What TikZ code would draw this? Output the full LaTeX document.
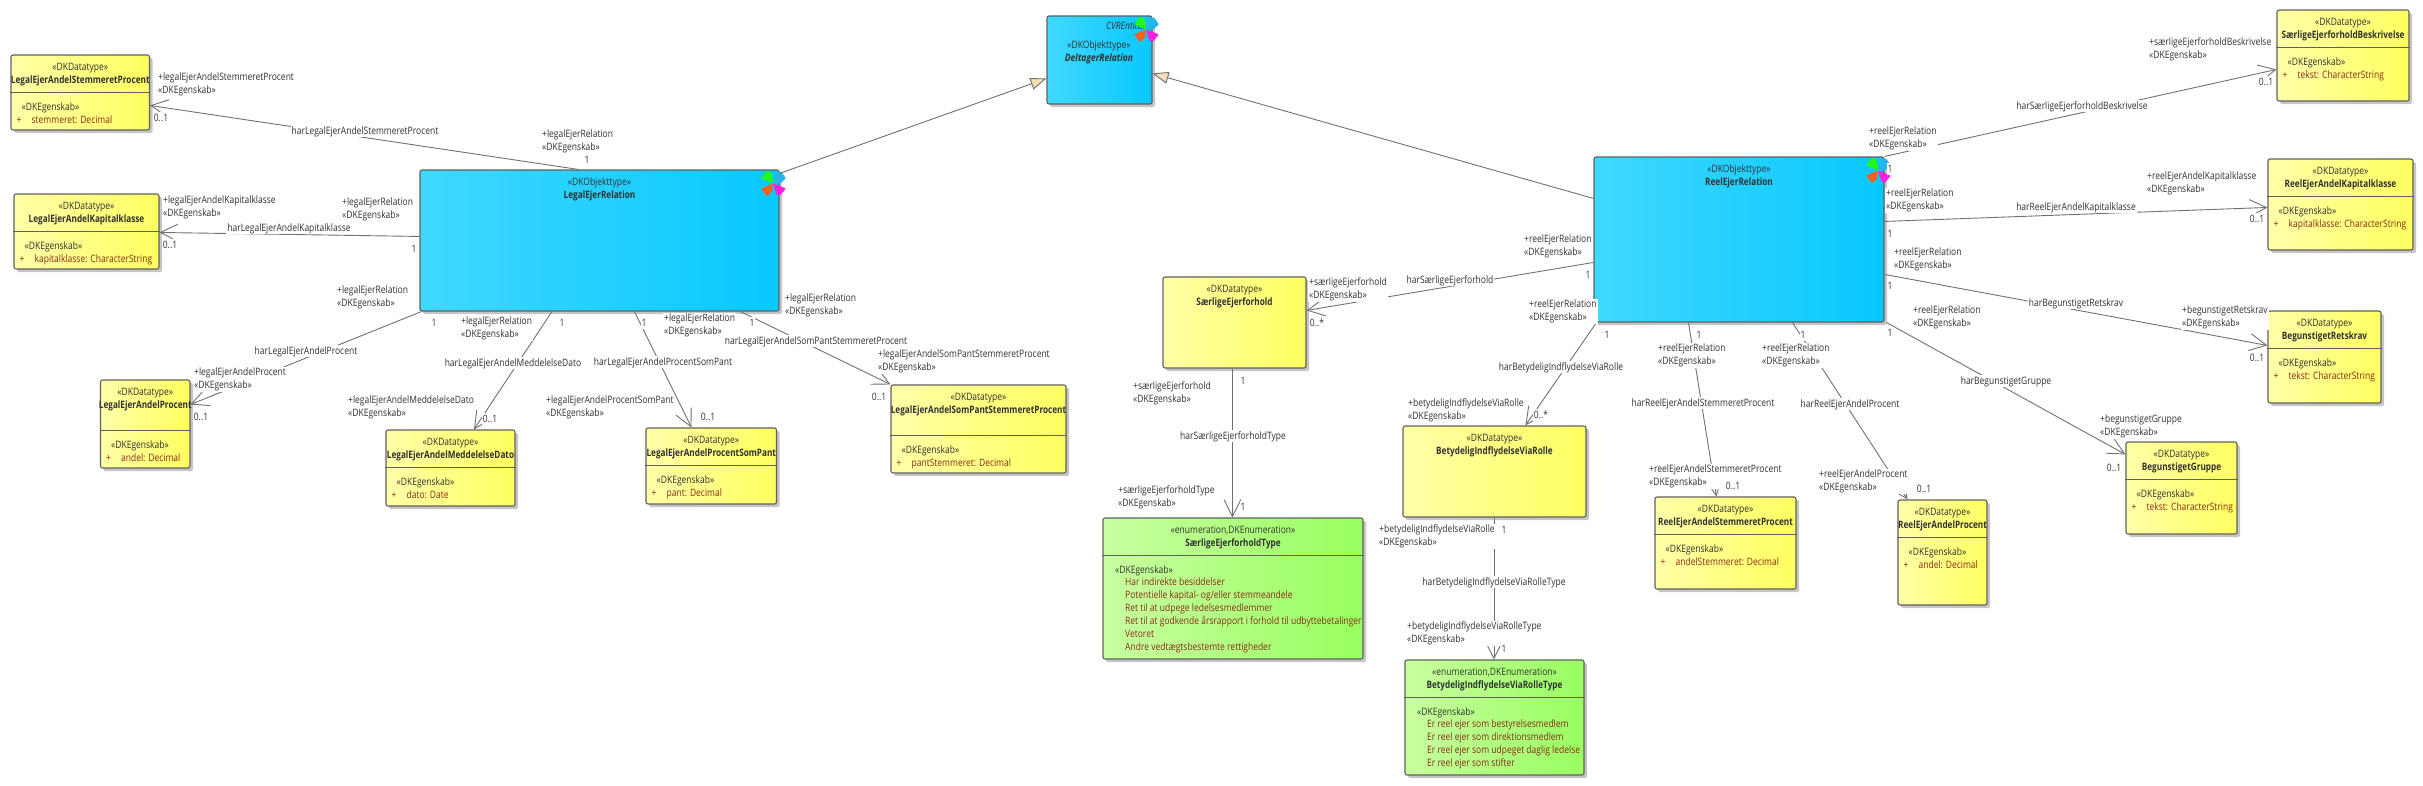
\documentclass[tikz,border=0pt]{standalone}
\usepackage{fontspec}
\setmainfont{Open Sans}[FakeStretch=0.833,BoldFeatures={FakeStretch=0.805}]
\usetikzlibrary{arrows.meta,shadows}
\definecolor{boxline}{HTML}{606060}
\definecolor{linegray}{HTML}{707070}
\definecolor{textdark}{HTML}{303030}
\definecolor{attrred}{HTML}{8A2A1A}
\definecolor{yellowleft}{HTML}{FFFFA8}
\definecolor{yellowright}{HTML}{FFFF60}
\definecolor{blueleft}{HTML}{40D8FF}
\definecolor{blueright}{HTML}{08C8FF}
\definecolor{greenleft}{HTML}{C8FFA0}
\definecolor{greenright}{HTML}{98FF60}
\definecolor{tipfill}{HTML}{F5DDB5}
\definecolor{petalgreen}{HTML}{22F51A}
\definecolor{petalblue}{HTML}{27B4EB}
\definecolor{petalorange}{HTML}{F7631F}
\definecolor{petalmagenta}{HTML}{FF1FE0}
\tikzstyle{classbox} = [rectangle,
                    rounded corners=2pt,
                    draw=boxline,
                    line width=1.1pt,
                    inner sep=0pt,
                    drop shadow={shadow xshift=3pt,shadow yshift=-3pt,fill=black!45,opacity=.5}]
\tikzstyle{datatype} = [classbox, left color=yellowleft, right color=yellowright]
\tikzstyle{objecttype} = [classbox, left color=blueleft, right color=blueright]
\tikzstyle{enumtype} = [classbox, left color=greenleft, right color=greenright]
\tikzstyle{basetext} = [font=\fontsize{10.2}{13}\selectfont, inner sep=0pt, text=textdark,
                    text height=9pt, text depth=2.5pt]
\tikzstyle{boldtext} = [basetext, font=\fontsize{10.2}{13}\selectfont\bfseries]
\tikzstyle{attrtext} = [basetext, text=attrred, anchor=west]
\tikzstyle{link} = [basetext, fill=white, inner xsep=1pt]
\tikzstyle{mult} = [basetext, fill=white, inner xsep=1pt]
\tikzstyle{role} = [font=\fontsize{10.2}{13}\selectfont, text=textdark, fill=white, inner sep=1pt,
                    align=left, anchor=west]
\tikzstyle{assoc} = [color=linegray, line width=.9pt,
                    -{Straight Barb[length=17pt,width=17pt,line width=.9pt]}]
\tikzstyle{general} = [color=linegray, line width=.9pt,
                    -{Triangle[length=16pt,width=12pt,fill=tipfill,line width=.9pt]}]
% box with the two head lines
\newcommand{\umlbox}[8]{
  \node (#1) [#2, minimum width={(#5-#3)*1pt}, minimum height={(#6-#4)*1pt}] at ({(#3+#5)/2},{(#4+#6)/2}) {};
  \node (#1s) [basetext] at ([yshift=-13pt]#1.north) {«#7»};
  \node (#1n) [boldtext] at ([yshift=-26pt]#1.north) {#8};
}
% divider and one attribute
\newcommand{\umlattr}[3]{
  \draw [boxline, line width=.9pt] (#1.west |- 0,#2) -- (#1.east |- 0,#2);
  \node (#1d) [basetext, anchor=west, xshift=11pt] at (#1.west |- 0,#2+15) {«DKEgenskab»};
  \node (#1p) [attrtext, xshift=6pt] at (#1.west |- 0,#2+28) {+};
  \node (#1a) [attrtext, xshift=21pt] at (#1.west |- 0,#2+28) {#3};
}
\newcommand{\petals}[1]{
  \begin{scope}[shift={([xshift=-6.5pt,yshift=-14pt]#1.north east)}, rounded corners=1pt]
    \fill [petalgreen] (0,0) -- (-12,-5) -- (-6,-13) -- (-1,-10) -- cycle;
    \fill [petalblue] (0,0) -- (3,-11) -- (8,-12) -- (13,-5) -- (7,0) -- cycle;
    \fill [petalorange] (0,0) -- (-12,5) -- (-6,13) -- (-1,8) -- cycle;
    \fill [petalmagenta] (0,0) -- (13,5) -- (6,13) -- (3,10) -- cycle;
  \end{scope}
}
\begin{document}
\begin{tikzpicture}[x=1pt,y=-1pt]
  \useasboundingbox (0,0) rectangle (2423,785);
  \node (del) [objecttype, minimum width=105pt, minimum height=88pt] at (1099.5,60) {};
  \node (dels) [basetext] at (1099,45) {«DKObjekttype»};
  \node (deln) [basetext, font=\fontsize{10.2}{13}\selectfont\itshape\bfseries] at (1099,58) {DeltagerRelation};
  \node (delc) [basetext, anchor=west, font=\fontsize{10.2}{13}\selectfont\itshape] at (1106,26) {CVREntitet};
  \umlbox{ler}{objecttype}{420}{170}{779}{311}{DKObjekttype}{LegalEjerRelation}
  \umlbox{rer}{objecttype}{1594}{157}{1884}{322}{DKObjekttype}{ReelEjerRelation}
  \umlbox{lst}{datatype}{11}{55}{149.5}{130}{DKDatatype}{LegalEjerAndelStemmeretProcent}
  \umlattr{lst}{92}{stemmeret: Decimal}
  \umlbox{lka}{datatype}{14}{194}{159}{269}{DKDatatype}{LegalEjerAndelKapitalklasse}
  \umlattr{lka}{231}{kapitalklasse: CharacterString}
  \umlbox{lpr}{datatype}{100.5}{380}{190}{468}{DKDatatype}{LegalEjerAndelProcent}
  \umlattr{lpr}{430}{andel: Decimal}
  \umlbox{lme}{datatype}{386}{430}{515}{506}{DKDatatype}{LegalEjerAndelMeddelelseDato}
  \umlattr{lme}{467}{dato: Date}
  \umlbox{lpa}{datatype}{646}{428}{776.5}{504}{DKDatatype}{LegalEjerAndelProcentSomPant}
  \umlattr{lpa}{465}{pant: Decimal}
  \umlbox{lsp}{datatype}{891}{385}{1066}{473}{DKDatatype}{LegalEjerAndelSomPantStemmeretProcent}
  \umlattr{lsp}{435}{pantStemmeret: Decimal}
  \umlbox{sef}{datatype}{1163}{277}{1306}{368}{DKDatatype}{SærligeEjerforhold}
  \umlbox{bir}{datatype}{1403}{426}{1586}{517}{DKDatatype}{BetydeligIndflydelseViaRolle}
  \umlbox{rst}{datatype}{1655}{497}{1796}{589}{DKDatatype}{ReelEjerAndelStemmeretProcent}
  \umlattr{rst}{534}{andelStemmeret: Decimal}
  \umlbox{rpr}{datatype}{1898}{500}{1987}{605}{DKDatatype}{ReelEjerAndelProcent}
  \umlattr{rpr}{537}{andel: Decimal}
  \umlbox{sbe}{datatype}{2277}{10}{2409}{101}{DKDatatype}{SærligeEjerforholdBeskrivelse}
  \umlattr{sbe}{47}{tekst: CharacterString}
  \umlbox{rka}{datatype}{2268}{159}{2413}{250}{DKDatatype}{ReelEjerAndelKapitalklasse}
  \umlattr{rka}{196}{kapitalklasse: CharacterString}
  \umlbox{brk}{datatype}{2268}{311}{2381}{403}{DKDatatype}{BegunstigetRetskrav}
  \umlattr{brk}{348}{tekst: CharacterString}
  \umlbox{bgr}{datatype}{2126}{442}{2237}{534}{DKDatatype}{BegunstigetGruppe}
  \umlattr{bgr}{479}{tekst: CharacterString}
  \umlbox{sty}{enumtype}{1103}{518}{1363}{659}{enumeration,DKEnumeration}{SærligeEjerforholdType}
  \draw [boxline, line width=.9pt] (sty.west |- 0,555) -- (sty.east |- 0,555);
  \node (styd) [basetext, anchor=west] at (1115,570) {«DKEgenskab»};
  \node (styv) [basetext, text=attrred, anchor=west, align=left, text height=, text depth=] at (1125,615.5) {Har indirekte besiddelser\\Potentielle kapital- og/eller stemmeandele\\Ret til at udpege ledelsesmedlemmer\\Ret til at godkende årsrapport i forhold til udbyttebetalinger\\Vetoret\\Andre vedtægtsbestemte rettigheder};
  \umlbox{bty}{enumtype}{1405}{660}{1584}{775}{enumeration,DKEnumeration}{BetydeligIndflydelseViaRolleType}
  \draw [boxline, line width=.9pt] (bty.west |- 0,697) -- (bty.east |- 0,697);
  \node (btyd) [basetext, anchor=west] at (1417,712) {«DKEgenskab»};
  \node (btyv) [basetext, text=attrred, anchor=west, align=left, text height=, text depth=] at (1427,744.5) {Er reel ejer som bestyrelsesmedlem\\Er reel ejer som direktionsmedlem\\Er reel ejer som udpeget daglig ledelse\\Er reel ejer som stifter};
  \petals{del}
  \petals{ler}
  \petals{rer}
  \path[general]
    ([yshift=-4pt]ler.north east) edge ([yshift=-63pt]del.north west)
    ([yshift=-42pt]rer.north west) edge ([yshift=-58pt]del.north east);
  \path[assoc]
    ([xshift=159pt]ler.north west) edge ([yshift=-51pt]lst.north east)
    ([yshift=-67pt]ler.north west) edge ([yshift=-39pt]lka.north east)
    ([xshift=2pt]ler.south west) edge ([yshift=-25pt]lpr.north east)
    ([xshift=132.5pt]ler.south west) edge ([xshift=88.5pt]lme.north west)
    ([xshift=215pt]ler.south west) edge ([xshift=46pt]lpa.north west)
    ([xshift=321pt]ler.south west) edge (lsp.north west)
    ([yshift=-106pt]rer.north west) edge ([yshift=-34pt]sef.north east)
    ([xshift=3pt]rer.south west) edge ([xshift=123pt]bir.north west)
    ([xshift=95pt]rer.south west) edge ([xshift=62pt]rst.north west)
    ([xshift=199pt]rer.south west) edge ([xshift=10pt]rpr.north west)
    ([xshift=2pt]rer.south east) edge ([yshift=-13pt]bgr.north west)
    ([yshift=-118pt]rer.north east) edge ([yshift=-35pt]brk.north west)
    ([yshift=-65pt]rer.north east) edge ([yshift=-49pt]rka.north west)
    (rer.north east) edge ([yshift=-60pt]sbe.north west)
    ([xshift=70pt]sef.south west) edge ([xshift=130pt]sty.north west)
    ([xshift=91.5pt]bir.south west) edge ([xshift=89.5pt]bty.north west);
  \node (l1) [link] at (365,131) {harLegalEjerAndelStemmeretProcent};
  \node (l2) [link] at (289,228) {harLegalEjerAndelKapitalklasse};
  \node (l3) [link] at (306,351) {harLegalEjerAndelProcent};
  \node (l4) [link] at (513,363) {harLegalEjerAndelMeddelelseDato};
  \node (l5) [link] at (663,362) {harLegalEjerAndelProcentSomPant};
  \node (l6) [link] at (816,341) {harLegalEjerAndelSomPantStemmeretProcent};
  \node (l7) [link] at (1450,280) {harSærligeEjerforhold};
  \node (l8) [link] at (1561,367) {harBetydeligIndflydelseViaRolle};
  \node (l9) [link] at (1703,403) {harReelEjerAndelStemmeretProcent};
  \node (l10) [link] at (1850,404) {harReelEjerAndelProcent};
  \node (l11) [link] at (2006,381) {harBegunstigetGruppe};
  \node (l12) [link] at (2076,303) {harBegunstigetRetskrav};
  \node (l13) [link] at (2076,207) {harReelEjerAndelKapitalklasse};
  \node (l14) [link] at (2082,106) {harSærligeEjerforholdBeskrivelse};
  \node (l15) [link] at (1233,436) {harSærligeEjerforholdType};
  \node (l16) [link] at (1494,582) {harBetydeligIndflydelseViaRolleType};
  \node (r1) [role] at (157,84.5) {+legalEjerAndelStemmeretProcent\\«DKEgenskab»};
  \node (r2) [role] at (541,141.5) {+legalEjerRelation\\«DKEgenskab»};
  \node (r3) [role] at (162,207.5) {+legalEjerAndelKapitalklasse\\«DKEgenskab»};
  \node (r4) [role] at (341,209.5) {+legalEjerRelation\\«DKEgenskab»};
  \node (r5) [role] at (336,297.5) {+legalEjerRelation\\«DKEgenskab»};
  \node (r6) [role] at (460,328.5) {+legalEjerRelation\\«DKEgenskab»};
  \node (r7) [role] at (663,325.5) {+legalEjerRelation\\«DKEgenskab»};
  \node (r8) [role] at (784,305.5) {+legalEjerRelation\\«DKEgenskab»};
  \node (r9) [role] at (193,379.5) {+legalEjerAndelProcent\\«DKEgenskab»};
  \node (r10) [role] at (347,407.5) {+legalEjerAndelMeddelelseDato\\«DKEgenskab»};
  \node (r11) [role] at (545,407.5) {+legalEjerAndelProcentSomPant\\«DKEgenskab»};
  \node (r12) [role] at (877,361.5) {+legalEjerAndelSomPantStemmeretProcent\\«DKEgenskab»};
  \node (r13) [role] at (1308,289.5) {+særligeEjerforhold\\«DKEgenskab»};
  \node (r14) [role] at (1523,246.5) {+reelEjerRelation\\«DKEgenskab»};
  \node (r15) [role] at (1528,311.5) {+reelEjerRelation\\«DKEgenskab»};
  \node (r16) [role] at (1132,393.5) {+særligeEjerforhold\\«DKEgenskab»};
  \node (r17) [role] at (1117,497.5) {+særligeEjerforholdType\\«DKEgenskab»};
  \node (r18) [role] at (1407,410.5) {+betydeligIndflydelseViaRolle\\«DKEgenskab»};
  \node (r19) [role] at (1378,536.5) {+betydeligIndflydelseViaRolle\\«DKEgenskab»};
  \node (r20) [role] at (1406,633.5) {+betydeligIndflydelseViaRolleType\\«DKEgenskab»};
  \node (r21) [role] at (1657,355.5) {+reelEjerRelation\\«DKEgenskab»};
  \node (r22) [role] at (1761,355.5) {+reelEjerRelation\\«DKEgenskab»};
  \node (r23) [role] at (1648,476.5) {+reelEjerAndelStemmeretProcent\\«DKEgenskab»};
  \node (r24) [role] at (1818,481.5) {+reelEjerAndelProcent\\«DKEgenskab»};
  \node (r25) [role] at (1868,138.5) {+reelEjerRelation\\«DKEgenskab»};
  \node (r26) [role] at (1885,200.5) {+reelEjerRelation\\«DKEgenskab»};
  \node (r27) [role] at (1893,259.5) {+reelEjerRelation\\«DKEgenskab»};
  \node (r28) [role] at (1912,317.5) {+reelEjerRelation\\«DKEgenskab»};
  \node (r29) [role] at (2148,49.5) {+særligeEjerforholdBeskrivelse\\«DKEgenskab»};
  \node (r30) [role] at (2146,183.5) {+reelEjerAndelKapitalklasse\\«DKEgenskab»};
  \node (r31) [role] at (2181,317.5) {+begunstigetRetskrav\\«DKEgenskab»};
  \node (r32) [role] at (2099,426.5) {+begunstigetGruppe\\«DKEgenskab»};
  \node (m1) [mult] at (161,118) {0..1};
  \node (m2) [mult] at (587,160) {1};
  \node (m3) [mult] at (170,245) {0..1};
  \node (m4) [mult] at (414,249) {1};
  \node (m5) [mult] at (434,323) {1};
  \node (m6) [mult] at (562,323) {1};
  \node (m7) [mult] at (644,323) {1};
  \node (m8) [mult] at (752,323) {1};
  \node (m9) [mult] at (201,417) {0..1};
  \node (m10) [mult] at (490,419) {0..1};
  \node (m11) [mult] at (708,417) {0..1};
  \node (m12) [mult] at (879,397) {0..1};
  \node (m13) [mult] at (1317,323) {0..*};
  \node (m14) [mult] at (1588,275) {1};
  \node (m15) [mult] at (1607,335) {1};
  \node (m16) [mult] at (1541,415) {0..*};
  \node (m17) [mult] at (1243,381) {1};
  \node (m18) [mult] at (1243,507) {1};
  \node (m19) [mult] at (1504,530) {1};
  \node (m20) [mult] at (1504,649) {1};
  \node (m21) [mult] at (1699,335) {1};
  \node (m22) [mult] at (1803,335) {1};
  \node (m23) [mult] at (1733,486) {0..1};
  \node (m24) [mult] at (1924,489) {0..1};
  \node (m25) [mult] at (1890,169) {1};
  \node (m26) [mult] at (1890,234) {1};
  \node (m27) [mult] at (1890,286) {1};
  \node (m28) [mult] at (1890,333) {1};
  \node (m29) [mult] at (2266,82) {0..1};
  \node (m30) [mult] at (2257,219) {0..1};
  \node (m31) [mult] at (2257,358) {0..1};
  \node (m32) [mult] at (2114,468) {0..1};
\end{tikzpicture}
\end{document}
